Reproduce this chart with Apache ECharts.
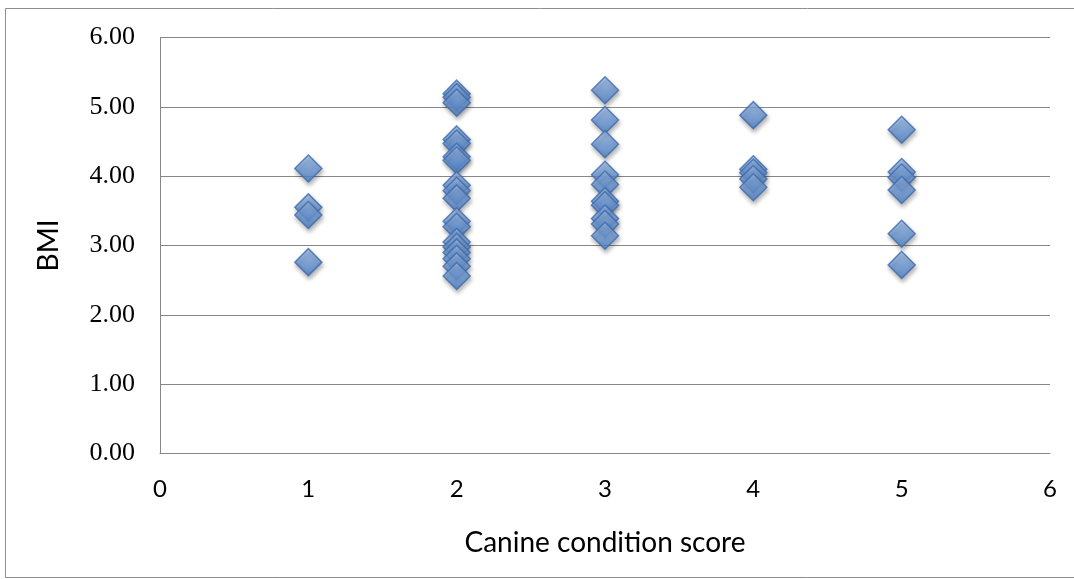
<!DOCTYPE html>
<html>
<head>
<meta charset="utf-8">
<script src="https://cdn.jsdelivr.net/npm/echarts@6/dist/echarts.min.js"></script>
<style>
html,body{margin:0;padding:0;background:#fff;}
#chart{width:1074px;height:579px;}
</style>
</head>
<body>
<div id="chart"></div>
<script>
// Canine condition score categories and BMI values
var scores = [1, 2, 3, 4, 5];
var bmiScore1 = [4.11, 3.55, 3.44, 2.76];
var bmiScore2 = [5.19, 5.14, 5.06, 4.53, 4.47, 4.28, 4.23, 3.87, 3.79, 3.68, 3.35, 3.27, 3.05, 2.98, 2.90, 2.81, 2.70, 2.56];
var bmiScore3 = [5.24, 4.81, 4.46, 4.02, 3.88, 3.64, 3.58, 3.39, 3.31, 3.14];
var bmiScore4 = [4.88, 4.10, 4.05, 3.96, 3.84];
var bmiScore5 = [4.67, 4.06, 3.98, 3.80, 3.17, 2.72];
var xTicks = [0, 1, 2, 3, 4, 5, 6];
var yTicks = [0, 1, 2, 3, 4, 5, 6];

var groups = [bmiScore1, bmiScore2, bmiScore3, bmiScore4, bmiScore5];
var points = [];
groups.forEach(function (vals, i) {
  vals.forEach(function (v) { points.push([scores[i], v]); });
});

var chart = echarts.init(document.getElementById('chart'), null, {renderer: 'canvas'});
var gridColor = '#878787';
chart.setOption({
  animation: false,
  backgroundColor: '#ffffff',
  graphic: [{
    type: 'rect',
    silent: true,
    shape: {x: 5.5, y: 8.5, width: 1100, height: 569},
    style: {fill: 'none', stroke: '#8e8e8e', lineWidth: 1}
  }],
  grid: {left: 160, right: 24, top: 37.5, bottom: 125.5, containLabel: false},
  xAxis: {
    type: 'value',
    min: xTicks[0], max: xTicks[xTicks.length - 1], interval: 1,
    splitLine: {show: false},
    axisTick: {show: false},
    axisLine: {show: true, lineStyle: {color: gridColor, width: 1}},
    axisLabel: {margin: 24, color: '#000', fontFamily: 'Lato', fontSize: 24},
    name: 'Canine condition score',
    nameLocation: 'middle',
    nameGap: 75,
    nameTextStyle: {color: '#000', fontFamily: 'Lato', fontSize: 28}
  },
  yAxis: {
    type: 'value',
    min: yTicks[0], max: yTicks[yTicks.length - 1], interval: 1,
    splitLine: {show: true, lineStyle: {color: gridColor, width: 1}},
    axisTick: {show: false},
    axisLine: {show: true, lineStyle: {color: gridColor, width: 1}},
    axisLabel: {
      margin: 25, color: '#000', fontFamily: 'Liberation Serif', fontSize: 26,
      formatter: function (v) { return v.toFixed(2); }
    },
    name: 'BMI',
    nameLocation: 'middle',
    nameGap: 97,
    nameRotate: 90,
    nameTextStyle: {color: '#000', fontFamily: 'Lato', fontSize: 28}
  },
  series: [{
    type: 'scatter',
    data: points,
    symbol: 'diamond',
    symbolSize: [27, 27],
    itemStyle: {
      color: new echarts.graphic.LinearGradient(0, 0, 0, 1, [
        {offset: 0, color: '#a2c1ec'},
        {offset: 0.5, color: '#6f9bd8'},
        {offset: 1, color: '#4a7dc3'}
      ]),
      borderColor: '#3c6cb0',
      borderWidth: 1.5,
      shadowColor: 'rgba(0,0,0,0.35)',
      shadowBlur: 4,
      shadowOffsetX: 1,
      shadowOffsetY: 3
    }
  }]
});
</script>
</body>
</html>
